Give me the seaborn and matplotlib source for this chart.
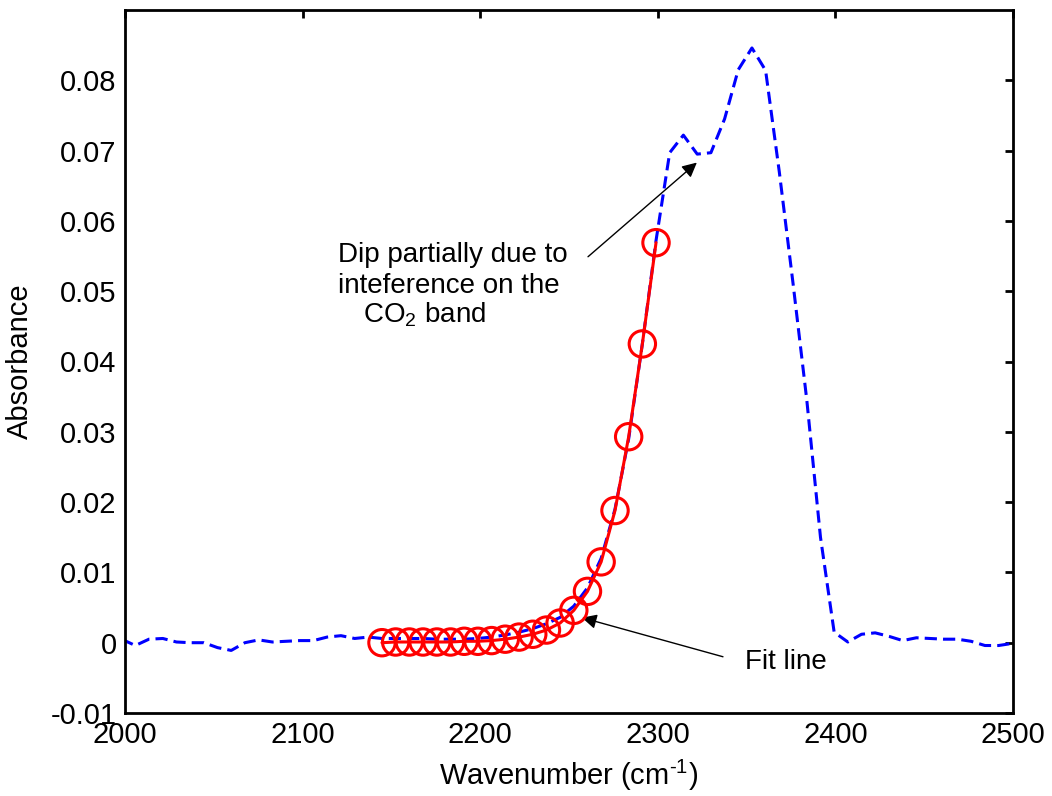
import numpy as np
import pandas as pd
import matplotlib
matplotlib.use("Agg")
import matplotlib.pyplot as plt
import seaborn as sns

# ---- data ----
spectrum_wavenumber = [
    1998.1, 2005.8, 2013.5, 2021.3, 2029.0, 2036.7, 2044.4, 2052.1, 2059.8, 2067.5,
    2075.3, 2083.0, 2090.7, 2098.4, 2106.1, 2113.8, 2121.6, 2129.3, 2137.0, 2144.7,
    2152.4, 2160.1, 2167.8, 2175.6, 2183.3, 2191.0, 2198.7, 2206.4, 2214.1, 2221.9,
    2229.6, 2237.3, 2245.0, 2252.7, 2260.4, 2268.1, 2275.9, 2283.6, 2291.3, 2299.0,
    2306.7, 2314.4, 2322.2, 2329.9, 2337.6, 2345.3, 2353.0, 2360.7, 2368.4, 2376.2,
    2383.9, 2391.6, 2399.3, 2407.0, 2414.7, 2422.4, 2430.2, 2437.9, 2445.6, 2453.3,
    2461.0, 2468.7, 2476.4, 2484.2, 2491.9, 2499.6, 2507.3]
spectrum_absorbance = [
    0.0005, -0.0004, 0.0005, 0.0006, 0.0001, 0.0000, 0.0000, -0.0007, -0.0011, 0.0000,
    0.0004, 0.0001, 0.0002, 0.0003, 0.0003, 0.0008, 0.0010, 0.0006, 0.0008, 0.0006,
    0.0006, 0.0006, 0.0006, 0.0005, 0.0005, 0.0005, 0.0006, 0.0008, 0.0011, 0.0015,
    0.0020, 0.0027, 0.0036, 0.0052, 0.0078, 0.0120, 0.0190, 0.0290, 0.0425, 0.0572,
    0.0697, 0.0722, 0.0695, 0.0697, 0.0745, 0.0815, 0.0846, 0.0814, 0.0670, 0.0510,
    0.0345, 0.0150, 0.0015, 0.0001, 0.0012, 0.0014, 0.0009, 0.0003, 0.0007, 0.0006,
    0.0005, 0.0005, 0.0002, -0.0004, -0.0004, -0.0001, 0.0002]

fit_wavenumber = [
    2144.7, 2152.4, 2160.1, 2167.8, 2175.6, 2183.3, 2191.0, 2198.7, 2206.4, 2214.1,
    2221.9, 2229.6, 2237.3, 2245.0, 2252.7, 2260.4, 2268.1, 2275.9, 2283.6, 2291.3,
    2299.0]
fit_absorbance = [
    0.0000, 0.0001, 0.0001, 0.0001, 0.0001, 0.0001, 0.0002, 0.0002, 0.0003, 0.0005,
    0.0008, 0.0012, 0.0018, 0.0028, 0.0046, 0.0073, 0.0115, 0.0188, 0.0293, 0.0425,
    0.0569]

x_ticks = [2000, 2100, 2200, 2300, 2400, 2500]
y_ticks = [-0.01, 0.0, 0.01, 0.02, 0.03, 0.04, 0.05, 0.06, 0.07, 0.08]
y_tick_labels = ["-0.01", "0", "0.01", "0.02", "0.03", "0.04", "0.05", "0.06", "0.07", "0.08"]

spec = pd.DataFrame({"wn": spectrum_wavenumber, "A": spectrum_absorbance})
fit = pd.DataFrame({"wn": fit_wavenumber, "A": fit_absorbance})

# ---- style ----
sns.set_theme(style="white")
plt.rcParams["font.family"] = ["Liberation Sans", "DejaVu Sans"]
plt.rcParams["mathtext.default"] = "regular"
plt.rcParams["axes.linewidth"] = 2.0
plt.rcParams["axes.edgecolor"] = "black"
plt.rcParams["text.color"] = "black"
plt.rcParams["axes.labelcolor"] = "black"
plt.rcParams["xtick.color"] = "black"
plt.rcParams["ytick.color"] = "black"

fig = plt.figure(figsize=(10.52, 7.96), dpi=100)
ax = fig.add_axes([125 / 1052, 1 - 713 / 796, (1013 - 125) / 1052, (713 - 10) / 796])

sns.lineplot(data=spec, x="wn", y="A", ax=ax, color=(0, 0, 1), lw=2.2,
             sort=False, estimator=None)
ax.lines[-1].set_dashes((4, 2))

sns.lineplot(data=fit, x="wn", y="A", ax=ax, color=(1, 0, 0), lw=2.2,
             sort=False, estimator=None)
sns.scatterplot(data=fit, x="wn", y="A", ax=ax, marker="o", s=19 ** 2,
                facecolors="none", edgecolor=(1, 0, 0), linewidth=2.2, zorder=5)

ax.set_xlim(2000, 2500)
ax.set_ylim(-0.01, 0.09)
ax.set_xticks(x_ticks)
ax.set_xticklabels([str(t) for t in x_ticks])
ax.set_yticks(y_ticks)
ax.set_yticklabels(y_tick_labels)
ax.tick_params(direction="in", length=6, width=2, top=True, right=True,
               labelsize=21, colors="black", pad=6)
ax.set_xlabel("Wavenumber (cm$^{\u2010 1}$)", fontsize=21, labelpad=6, color="black")
ax.set_ylabel("Absorbance", fontsize=21, labelpad=12, color="black")
for s in ax.spines.values():
    s.set_visible(True)
    s.set_color("black")

# ---- annotations ----
ax.annotate("", xy=(2322.0, 0.0683), xytext=(2260.7, 0.0549),
            arrowprops=dict(arrowstyle="-|>", color="black", lw=1.0,
                            mutation_scale=22, shrinkA=0, shrinkB=0))
ax.text(2119.9, 0.0541, "Dip partially due to", fontsize=20, ha="left", va="baseline", color="black")
ax.text(2119.9, 0.0498, "inteference on the", fontsize=20, ha="left", va="baseline", color="black")
ax.text(2134.0, 0.0456, "CO$_2$ band", fontsize=20, ha="left", va="baseline", color="black")

ax.annotate("", xy=(2257.3, 0.00356), xytext=(2336.7, -0.0020),
            arrowprops=dict(arrowstyle="-|>", color="black", lw=1.0,
                            mutation_scale=22, shrinkA=0, shrinkB=0))
ax.text(2349.0, -0.0028, "Fit line", fontsize=20, ha="left", va="center", color="black")

fig.savefig("out.png", dpi=100)
